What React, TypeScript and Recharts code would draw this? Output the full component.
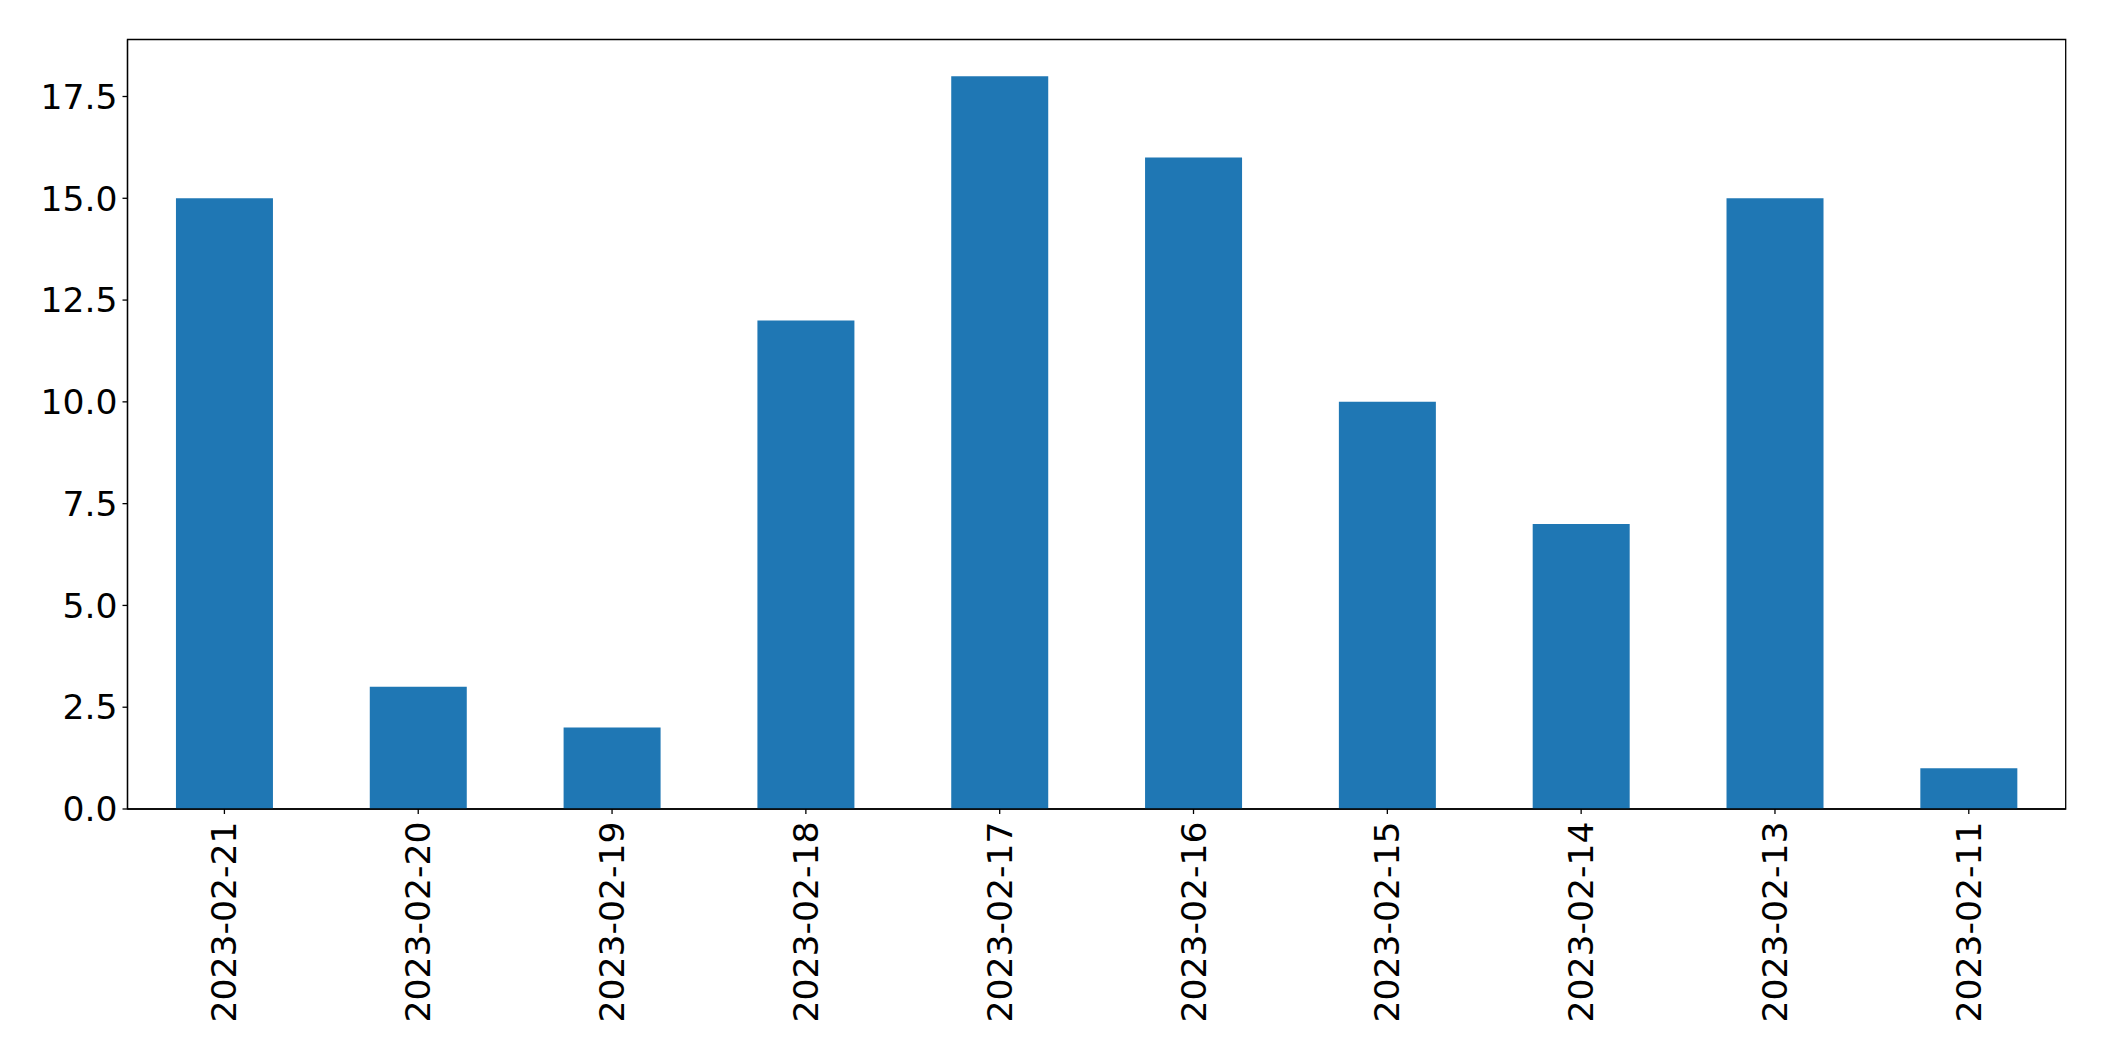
import React from 'react';
import { BarChart, Bar, XAxis, YAxis, ReferenceArea } from 'recharts';

// dates in the order they appear on the x axis
const dates = [
  '2023-02-21',
  '2023-02-20',
  '2023-02-19',
  '2023-02-18',
  '2023-02-17',
  '2023-02-16',
  '2023-02-15',
  '2023-02-14',
  '2023-02-13',
  '2023-02-11',
];
const counts = [15, 3, 2, 12, 18, 16, 10, 7, 15, 1];
const yTicks = [0, 2.5, 5, 7.5, 10, 12.5, 15, 17.5];
const yMax = 18.9;

const data = dates.map((date, i) => ({ date, count: counts[i] }));

const FONT = '"DejaVu Sans", sans-serif';
const FONT_SIZE = 34.6;
const AXIS_COLOR = '#000000';

const DateTick = (props: any) => {
  const { x, y, payload } = props;
  return (
    <g transform={`translate(${x},${y})`}>
      <text
        x={-7.6}
        y={0}
        transform="rotate(-90)"
        textAnchor="end"
        dominantBaseline="central"
        fontFamily={FONT}
        fontSize={FONT_SIZE}
        fill="#000"
      >
        {payload.value}
      </text>
    </g>
  );
};

export default function App() {
  return (
    <div style={{ position: 'absolute', left: 0, top: 0, width: 2104, height: 1061, background: '#fff' }}>
      <BarChart
        width={2104}
        height={1061}
        data={data}
        margin={{ top: 39.5, right: 38.3, left: 0, bottom: 0 }}
        barCategoryGap="25%"
      >
        <XAxis
          dataKey="date"
          height={252}
          interval={0}
          tick={<DateTick />}
          tickSize={5}
          tickMargin={0}
          axisLine={{ stroke: AXIS_COLOR, strokeWidth: 1.3 }}
          tickLine={{ stroke: AXIS_COLOR, strokeWidth: 1.3 }}
        />
        <YAxis
          width={127.5}
          domain={[0, yMax]}
          ticks={yTicks}
          allowDataOverflow
          tickFormatter={(v: number) => v.toFixed(1)}
          tickSize={5}
          tickMargin={5}
          tick={{ fontFamily: FONT, fontSize: FONT_SIZE, fill: '#000' }}
          axisLine={{ stroke: AXIS_COLOR, strokeWidth: 1.3 }}
          tickLine={{ stroke: AXIS_COLOR, strokeWidth: 1.3 }}
        />
        <Bar dataKey="count" fill="#1f77b4" isAnimationActive={false} />
        {/* frame round the plot, like the matplotlib spines */}
        <ReferenceArea
          y1={0}
          y2={yMax}
          fill="none"
          fillOpacity={0}
          stroke={AXIS_COLOR}
          strokeWidth={1.3}
          ifOverflow="visible"
        />
      </BarChart>
    </div>
  );
}
